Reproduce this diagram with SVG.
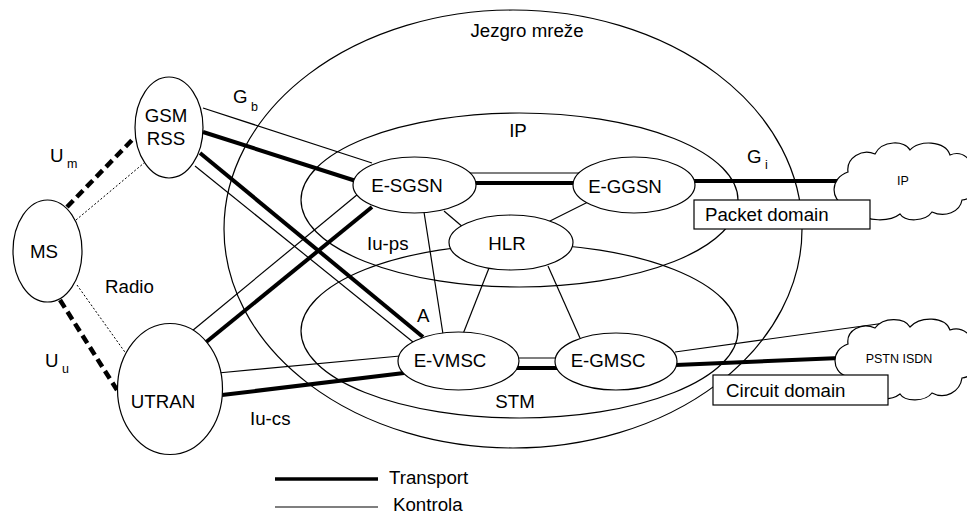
<svg xmlns="http://www.w3.org/2000/svg" width="967" height="515" viewBox="0 0 967 515">
  <style>
    text { font-family: "Liberation Sans", Arial, sans-serif; font-size: 18.7px; fill: #000; }
    .mid { text-anchor: middle; }
    .sub { font-size: 12.5px; }
    .small { font-size: 12.5px; }
    .region { fill: none; stroke: #000; stroke-width: 1.2; }
    .node { fill: #fff; stroke: #000; stroke-width: 1.2; }
    .thin { stroke: #000; stroke-width: 1.2; fill: none; }
    .thick { stroke: #000; stroke-width: 4; fill: none; }
    .radio { stroke: #000; stroke-width: 4.5; stroke-dasharray: 9 5; fill: none; }
    .dot { stroke: #000; stroke-width: 1; stroke-dasharray: 2 2; fill: none; }
    .box { fill: #fff; stroke: #000; stroke-width: 1.2; }
  </style>

  <!-- core network and its IP / STM domains -->
  <g id="regions">
    <ellipse class="region" cx="513" cy="229" rx="289" ry="219"/>
    <ellipse class="region" cx="519.5" cy="200" rx="218.5" ry="87"/>
    <ellipse class="region" cx="519.5" cy="331" rx="218.5" ry="87"/>
  </g>

  <!-- interfaces between the elements -->
  <g id="connectors">
    <!-- radio links -->
    <line class="radio" x1="67" y1="207" x2="135" y2="137"/>
    <line class="dot" x1="76" y1="220" x2="144" y2="163"/>
    <line class="radio" x1="60" y1="300" x2="117" y2="390"/>
    <line class="dot" x1="77" y1="285" x2="127" y2="355"/>

    <!-- GSM RSS: Gb and A -->
    <line class="thin" x1="203" y1="108" x2="372" y2="163"/>
    <line class="thick" x1="203" y1="132" x2="356" y2="181"/>
    <line class="thick" x1="200" y1="153" x2="423" y2="337"/>
    <line class="thin" x1="195" y1="166" x2="413" y2="342"/>

    <!-- UTRAN: Iu-ps and Iu-cs -->
    <line class="thin" x1="192" y1="331" x2="358" y2="194"/>
    <line class="thick" x1="205" y1="343" x2="372" y2="207"/>
    <line class="thin" x1="218" y1="373" x2="400" y2="356"/>
    <line class="thick" x1="222" y1="395" x2="404" y2="373"/>

    <!-- packet core -->
    <line class="thin" x1="470" y1="173" x2="580" y2="173"/>
    <line class="thick" x1="474" y1="183" x2="576" y2="183"/>
    <line class="thick" x1="694" y1="181" x2="838" y2="181"/>
    <line class="thin" x1="444" y1="211" x2="464" y2="228"/>
    <line class="thin" x1="548" y1="222" x2="588" y2="202"/>
    <line class="thin" x1="424" y1="212" x2="443" y2="334"/>

    <!-- HLR to circuit core -->
    <line class="thin" x1="489" y1="268" x2="463" y2="334"/>
    <line class="thin" x1="548" y1="266" x2="580" y2="338"/>

    <!-- circuit core -->
    <line class="thin" x1="515" y1="358" x2="560" y2="358"/>
    <line class="thick" x1="515" y1="368" x2="560" y2="368"/>
    <line class="thin" x1="675" y1="352" x2="885" y2="323"/>
    <line class="thick" x1="676" y1="365" x2="840" y2="358"/>
  </g>

  <g id="node-gsm-rss">
    <ellipse class="node" cx="169" cy="127.5" rx="34" ry="50.5"/>
    <text class="mid" x="166" y="122">GSM</text>
    <text class="mid" x="166" y="145">RSS</text>
  </g>

  <g id="node-ms">
    <ellipse class="node" cx="47.5" cy="251" rx="34.5" ry="51"/>
    <text class="mid" x="44" y="258">MS</text>
  </g>

  <g id="node-utran">
    <ellipse class="node" cx="170" cy="389" rx="52.5" ry="65.5"/>
    <text class="mid" x="163" y="408">UTRAN</text>
  </g>

  <g id="node-e-sgsn">
    <ellipse class="node" cx="414.5" cy="185" rx="61.5" ry="28"/>
    <text class="mid" x="407" y="192">E-SGSN</text>
  </g>

  <g id="node-e-ggsn">
    <ellipse class="node" cx="634" cy="185" rx="61" ry="28"/>
    <text class="mid" x="625" y="193">E-GGSN</text>
  </g>

  <g id="node-hlr">
    <ellipse class="node" cx="511" cy="242.5" rx="62" ry="27.5"/>
    <text class="mid" x="507" y="250">HLR</text>
  </g>

  <g id="node-e-vmsc">
    <ellipse class="node" cx="458.5" cy="361" rx="60.5" ry="29"/>
    <text class="mid" x="450" y="367">E-VMSC</text>
  </g>

  <g id="node-e-gmsc">
    <ellipse class="node" cx="616" cy="361.5" rx="61" ry="28.5"/>
    <text class="mid" x="608" y="367">E-GMSC</text>
  </g>

  <g id="node-ip-cloud">
    <path class="node" d="M845,205 C830,200 830,178 848,172 C846,158 862,148 875,154 C882,140 905,140 910,150 C918,140 945,140 950,155 C962,150 975,160 970,172 C980,180 978,198 962,200 C960,212 945,218 932,212 C925,222 905,222 900,214 C890,222 865,222 860,212 C850,214 842,210 845,205 Z"/>
    <text class="mid small" x="903" y="185">IP</text>
  </g>

  <g id="node-pstn-cloud">
    <path class="node" d="M846,376 C832,372 830,350 848,344 C846,330 862,322 875,328 C884,316 905,318 910,327 C920,316 945,316 950,330 C962,326 976,336 970,346 C980,356 978,376 962,378 C960,392 945,400 932,393 C925,402 905,402 900,394 C890,402 866,400 860,390 C850,392 842,386 846,376 Z"/>
    <text class="mid small" x="899" y="363">PSTN ISDN</text>
  </g>

  <g id="packet-domain">
    <rect class="box" x="694" y="200" width="176" height="29"/>
    <text x="705" y="221">Packet domain</text>
  </g>

  <g id="circuit-domain">
    <rect class="box" x="713" y="375" width="175" height="30"/>
    <text x="726" y="397">Circuit domain</text>
  </g>

  <!-- region and interface labels -->
  <g id="labels">
    <text class="mid" x="527" y="37">Jezgro mreže</text>
    <text class="mid" x="518" y="137">IP</text>
    <text class="mid" x="515" y="408">STM</text>
    <text x="367" y="250">Iu-ps</text>
    <text x="250" y="425">Iu-cs</text>
    <text x="417" y="322">A</text>
    <text x="105" y="293">Radio</text>
    <text x="50" y="162">U</text><text class="sub" x="67" y="168">m</text>
    <text x="45" y="367">U</text><text class="sub" x="62" y="373">u</text>
    <text x="233" y="103">G</text><text class="sub" x="251" y="111">b</text>
    <text x="747" y="163">G</text><text class="sub" x="765" y="169">i</text>
  </g>

  <g id="legend">
    <line class="thick" x1="275" y1="479" x2="378" y2="479" style="stroke-width:3.5"/>
    <text x="389" y="484">Transport</text>
    <line class="thin" x1="275" y1="507" x2="378" y2="507"/>
    <text x="393" y="511">Kontrola</text>
  </g>
</svg>
